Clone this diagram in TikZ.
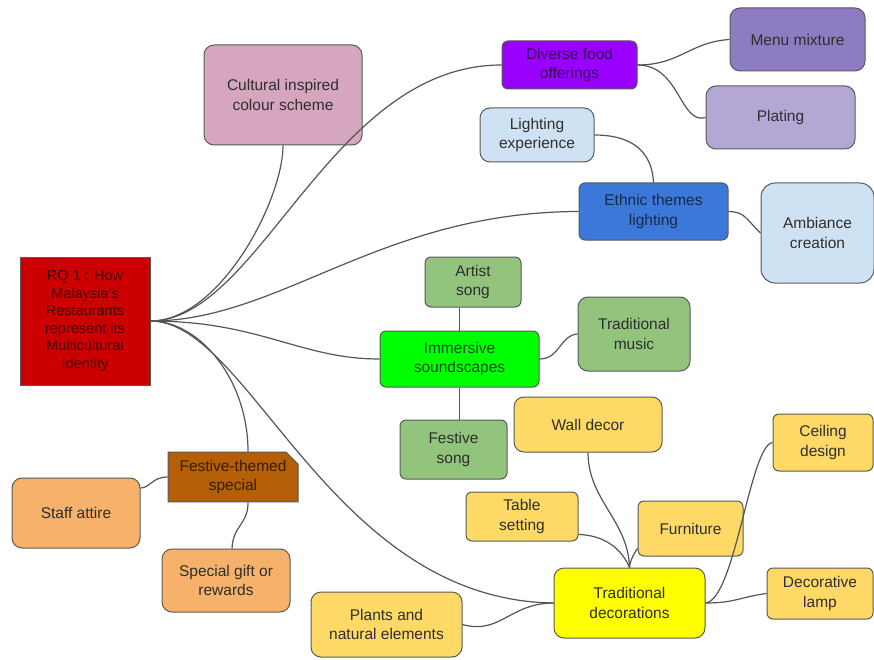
\documentclass[tikz,border=0pt]{standalone}
\usepackage{fontspec}
\setmainfont{Liberation Sans}
\usetikzlibrary{shapes.misc}
\definecolor{cRQ}{HTML}{CC0000}
\definecolor{cCult}{HTML}{D5A6BD}
\definecolor{cDiv}{HTML}{9900FF}
\definecolor{cMenu}{HTML}{8E7CC3}
\definecolor{cPlat}{HTML}{B4A7D6}
\definecolor{cLight}{HTML}{CFE2F3}
\definecolor{cEth}{HTML}{3C78D8}
\definecolor{cGreen}{HTML}{93C47D}
\definecolor{cImm}{HTML}{00FF00}
\definecolor{cGold}{HTML}{FFD966}
\definecolor{cYel}{HTML}{FFFF00}
\definecolor{cBrown}{HTML}{B45F06}
\definecolor{cOrange}{HTML}{F6B26B}
\definecolor{cEdge}{HTML}{555555}
\definecolor{cText}{HTML}{2E2E2E}
\tikzset{
  box/.style={draw=black!65, line width=1pt, rounded corners=10pt, align=center,
    font=\fontsize{15.5}{19.5}\selectfont, text=cText, inner sep=2pt},
  link/.style={draw=cEdge, line width=1.2pt},
}
\begin{document}
\begin{tikzpicture}[x=1pt,y=-1pt]
\useasboundingbox[fill=white] (0,0) rectangle (874,660);
% nodes
\node[draw=black!65, line width=1pt, fill=cRQ, align=center, text=cRQ!35!black,
  font=\fontsize{14.5}{17.5}\selectfont, minimum width=130pt, minimum height=128pt, inner sep=1pt]
  (rq) at (85,321) {RQ 1 : How\\Malaysia's\\Restaurants\\represent its\\Multicultural\\Identity};
\node[box, fill=cCult, minimum width=158pt, minimum height=100pt] (cult) at (283,95) {Cultural inspired\\colour scheme};
\node[box, fill=cDiv, text=cDiv!35!black, rounded corners=6pt, minimum width=135pt, minimum height=48pt] (div) at (569.5,65) {Diverse food\\offerings};
\node[box, fill=cMenu, minimum width=135pt, minimum height=63pt] (menu) at (797.5,39.5) {Menu mixture};
\node[box, fill=cPlat, minimum width=149pt, minimum height=63pt] (plat) at (780.5,117.5) {Plating};
\node[box, fill=cLight, minimum width=114pt, minimum height=54pt] (lexp) at (537,135) {Lighting\\experience};
\node[box, fill=cEth, text=cEth!35!black, rounded corners=6pt, minimum width=149pt, minimum height=57pt] (eth) at (653.5,211.5) {Ethnic themes\\lighting};
\node[box, fill=cLight, rounded corners=14pt, minimum width=113pt, minimum height=100pt] (amb) at (817.5,233) {Ambiance\\creation};
\node[box, fill=cGreen, rounded corners=6pt, minimum width=96pt, minimum height=50pt] (artist) at (473,282) {Artist\\song};
\node[box, fill=cImm, text=cImm!30!black, rounded corners=6pt, minimum width=159pt, minimum height=56pt] (imm) at (459.5,359) {Immersive\\soundscapes};
\node[box, fill=cGreen, minimum width=112pt, minimum height=74pt] (tmus) at (634,334) {Traditional\\music};
\node[box, fill=cGreen, rounded corners=6pt, minimum width=107pt, minimum height=59pt] (fsong) at (453.5,449.5) {Festive\\song};
\node[box, fill=cGold, minimum width=148pt, minimum height=55pt] (wall) at (588,424.5) {Wall decor};
\node[box, fill=cGold, rounded corners=6pt, minimum width=100pt, minimum height=57pt] (ceil) at (823,442.5) {Ceiling\\design};
\node[box, fill=cGold, rounded corners=6pt, minimum width=112pt, minimum height=49pt] (table) at (522,516.5) {Table\\setting};
\node[box, fill=cGold, rounded corners=6pt, minimum width=105pt, minimum height=55pt] (furn) at (690.5,528.5) {Furniture};
\node[box, fill=cYel, minimum width=151pt, minimum height=70pt] (trad) at (629.5,603) {Traditional\\decorations};
\node[box, fill=cGold, rounded corners=6pt, minimum width=106pt, minimum height=51pt] (lamp) at (820,593.5) {Decorative\\lamp};
\node[box, fill=cGold, minimum width=151pt, minimum height=65pt] (plants) at (386.5,624.5) {Plants and\\natural elements};
\node[box, rounded corners=0pt, chamfered rectangle, chamfered rectangle corners=north east,
  chamfered rectangle xsep=6pt, chamfered rectangle ysep=6pt,
  fill=cBrown, text=cBrown!30!black, minimum width=130pt, minimum height=48pt] (fts) at (233,477) {Festive-themed\\special};
\node[box, fill=cOrange, minimum width=128pt, minimum height=70pt] (staff) at (76,513) {Staff attire};
\node[box, fill=cOrange, minimum width=128pt, minimum height=63pt] (gift) at (226,580.5) {Special gift or\\rewards};
% connectors from RQ
\draw[link] (rq.east) .. controls (220,321) and (283,200) .. (cult.south);
\draw[link] (rq.east) .. controls (260,321) and (330,65) .. (div.west);
\draw[link] (rq.east) .. controls (280,321) and (380,212) .. (eth.west);
\draw[link] (rq.east) .. controls (260,321) and (300,359) .. (imm.west);
\draw[link] (rq.east) .. controls (200,321) and (248,380) .. ([xshift=15pt]fts.north);
\draw[link] (rq.east) .. controls (250,321) and (330,600) .. (trad.west);
% sub connectors
\draw[link] (div.east) .. controls (680,65) and (690,42) .. (menu.west);
\draw[link] (div.east) .. controls (680,65) and (680,125) .. (plat.west);
\draw[link] (eth.north) .. controls (652,150) and (630,135) .. (lexp.east);
\draw[link] (eth.east) .. controls (745,212) and (745,218) .. (amb.west);
\draw[link] (imm.north) -- (imm.north |- artist.south);
\draw[link] (imm.east) .. controls (560,359) and (560,335) .. (tmus.west);
\draw[link] (imm.south) -- (imm.south |- fsong.north);
\draw[link] (trad.north) .. controls (628,520) and (588,500) .. (wall.south);
\draw[link] (trad.north) .. controls (620,545) and (600,535) .. ([yshift=-18pt]table.east);
\draw[link] (trad.north) .. controls (630,560) and (635,552) .. ([yshift=-20pt]furn.west);
\draw[link] (trad.east) .. controls (735,600) and (750,445) .. (ceil.west);
\draw[link] (trad.east) .. controls (735,603) and (740,597) .. (lamp.west);
\draw[link] (plants.east) .. controls (500,635) and (510,603) .. (trad.west);
\draw[link] (fts.west) .. controls (152,477) and (150,488) .. ([yshift=25pt]staff.east);
\draw[link] ([xshift=15pt]fts.south) .. controls (248,525) and (233,525) .. ([xshift=6pt]gift.north);
\end{tikzpicture}
\end{document}
